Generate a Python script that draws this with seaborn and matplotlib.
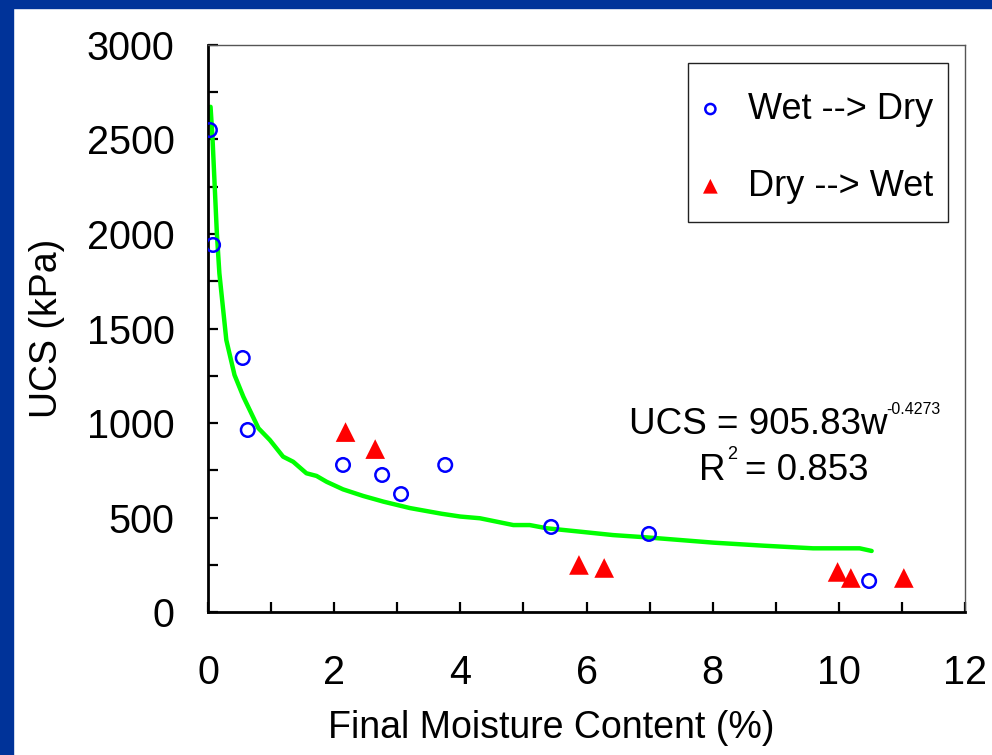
import numpy as np
import pandas as pd
import matplotlib
matplotlib.use("Agg")
import matplotlib.pyplot as plt
from matplotlib.patches import Rectangle
from matplotlib.ticker import MultipleLocator
import seaborn as sns

# Wet --> Dry specimens (moisture %, UCS kPa)
wet_dry_w = [0.03, 0.08, 0.55, 0.63, 2.14, 2.76, 3.06, 3.76, 5.44, 6.99, 10.48]
wet_dry_ucs = [2550, 1942, 1344, 963, 778, 725, 624, 778, 450, 413, 164]

# Dry --> Wet specimens
dry_wet_w = [2.18, 2.65, 5.88, 6.28, 9.98, 10.19, 11.03]
dry_wet_ucs = [952, 862, 249, 233, 212, 180, 180]

# power trend line as drawn on the chart
trend_w = [0.04, 0.07, 0.14, 0.18, 0.29, 0.42, 0.56, 0.80, 0.98, 1.19, 1.35, 1.56,
           1.72, 1.88, 2.14, 2.46, 2.78, 3.2, 3.7, 4.0, 4.31, 4.84, 5.10, 5.37,
           5.90, 6.42, 6.95, 7.48, 8.01, 8.80, 9.59, 10.33, 10.52]
trend_ucs = [2673, 2515, 2004, 1792, 1439, 1254, 1139, 972, 910, 822, 795, 734,
             720, 689, 649, 614, 584, 550, 520, 505, 496, 460, 460, 443,
             425, 407, 395, 381, 367, 351, 337, 337, 323]

x_ticks = [0, 2, 4, 6, 8, 10, 12]
y_ticks = [0, 500, 1000, 1500, 2000, 2500, 3000]

sns.set_style("ticks")
plt.rcParams['font.family'] = ['Liberation Sans', 'DejaVu Sans']
plt.rcParams['text.color'] = 'black'
plt.rcParams['axes.labelcolor'] = 'black'
plt.rcParams['xtick.color'] = 'black'
plt.rcParams['ytick.color'] = 'black'

fig = plt.figure(figsize=(9.92, 7.55), dpi=100)
ax = fig.add_axes([0.2097, 0.1894, 0.7631, 0.7510])

# blue slide border
fig.patches.append(Rectangle((0, 1 - 8 / 755), 1, 8 / 755, transform=fig.transFigure,
                             color='#003399', zorder=0))
fig.patches.append(Rectangle((0, 0), 13 / 992, 1, transform=fig.transFigure,
                             color='#003399', zorder=0))

trend = pd.DataFrame({'w': trend_w, 'ucs': trend_ucs})
sns.lineplot(data=trend, x='w', y='ucs', sort=False, color='#00FF00', lw=3.2,
             ax=ax, legend=False, zorder=2)

wd = pd.DataFrame({'w': wet_dry_w, 'ucs': wet_dry_ucs})
dw = pd.DataFrame({'w': dry_wet_w, 'ucs': dry_wet_ucs})
sns.scatterplot(data=wd, x='w', y='ucs', marker='o', s=95, facecolors='none',
                edgecolor='#0000FF', linewidth=1.8, ax=ax, label='Wet --> Dry', zorder=3)
sns.scatterplot(data=dw, x='w', y='ucs', marker='^', s=200, color='#FF0000',
                edgecolor='none', ax=ax, label='Dry --> Wet', zorder=3)

ax.set_xlim(0, 12)
ax.set_ylim(0, 3000)
ax.set_xticks(x_ticks)
ax.set_yticks(y_ticks)
ax.xaxis.set_minor_locator(MultipleLocator(1))
ax.yaxis.set_minor_locator(MultipleLocator(250))
ax.tick_params(which='both', direction='in', length=7.5, width=1.6, color='black')
ax.tick_params(axis='x', labelsize=28.5, pad=30, labelcolor='black')
ax.tick_params(axis='y', labelsize=28.5, pad=24, labelcolor='black')

for side in ['left', 'bottom']:
    ax.spines[side].set_color('black')
    ax.spines[side].set_linewidth(2)
for side in ['top', 'right']:
    ax.spines[side].set_color('#555555')
    ax.spines[side].set_linewidth(1)

ax.set_xlabel('Final Moisture Content (%)', fontsize=27, color='black')
ax.xaxis.set_label_coords(0.454, -0.172)
ax.set_ylabel('UCS (kPa)', fontsize=27, labelpad=16, color='black')

# trend line equation (superscripts set as separate small texts)
ax.text(0.7266, 0.330, 'UCS = 905.83w', transform=ax.transAxes,
        ha='center', va='center', fontsize=26.5)
ax.text(0.896, 0.357, '-0.4273', transform=ax.transAxes,
        ha='left', va='center', fontsize=11.5)
ax.text(0.683, 0.250, 'R', transform=ax.transAxes, ha='right', va='center', fontsize=26.5)
ax.text(0.686, 0.278, '2', transform=ax.transAxes, ha='left', va='center', fontsize=13)
ax.text(0.709, 0.250, '= 0.853', transform=ax.transAxes, ha='left', va='center', fontsize=26.5)

# legend: entries without frame, box drawn separately (Excel-style tall padding)
ax.add_patch(Rectangle((0.634, 0.688), 0.343, 0.280, transform=ax.transAxes,
                       facecolor='white', edgecolor='#222222', linewidth=1, zorder=4))
leg = ax.legend(loc='center', bbox_to_anchor=(0.806, 0.819), borderaxespad=0,
                fontsize=26, frameon=False, markerscale=0.75, handletextpad=0.84,
                labelspacing=1.17, borderpad=0, handlelength=0.4)
leg.set_zorder(5)

fig.savefig('out.png', dpi=100)
